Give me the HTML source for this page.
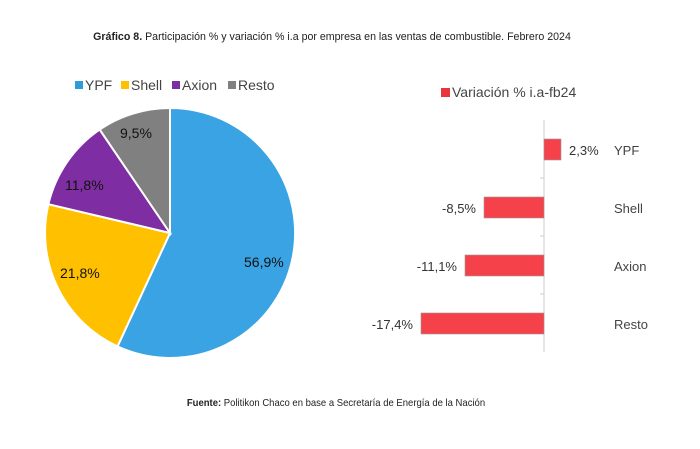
<!DOCTYPE html>
<html><head><meta charset="utf-8"><style>
body{margin:0;background:#fff;}
svg{display:block;font-family:"Liberation Sans",sans-serif;}
</style></head><body>
<svg width="700" height="449" viewBox="0 0 700 449">
<rect width="700" height="449" fill="#fff"/>
<text x="332" y="40" text-anchor="middle" font-size="11.5" fill="#222" transform="translate(332,0) scale(0.925,1) translate(-332,0)"><tspan font-weight="bold">Gráfico 8.</tspan> Participación % y variación % i.a por empresa en las ventas de combustible. Febrero 2024</text>
<g font-size="14" fill="#444">
<rect x="75" y="81" width="8" height="8" fill="#2E9BDB"/><text x="85" y="90">YPF</text>
<rect x="121" y="81" width="8" height="8" fill="#FFC000"/><text x="131" y="90">Shell</text>
<rect x="172" y="81" width="8" height="8" fill="#7B2FA0"/><text x="182" y="90">Axion</text>
<rect x="228" y="81" width="8" height="8" fill="#808080"/><text x="238" y="90">Resto</text>
</g>
<g stroke="#fff" stroke-width="2">
<path d="M170,233 L170,108 A125,125 0 1 1 117.5,346.4 Z" fill="#3AA3E3"/>
<path d="M170,233 L117.5,346.4 A125,125 0 0 1 48.4,204.2 Z" fill="#FFC000"/>
<path d="M170,233 L48.4,204.2 A125,125 0 0 1 99.7,129.6 Z" fill="#7E2EA2"/>
<path d="M170,233 L99.7,129.6 A125,125 0 0 1 170,108 Z" fill="#808080"/>
</g>
<g font-size="14" fill="#111">
<text x="244" y="267">56,9%</text>
<text x="60" y="278">21,8%</text>
<text x="65" y="190">11,8%</text>
<text x="120" y="138">9,5%</text>
</g>
<rect x="441" y="88" width="9" height="9" fill="#E8343C"/>
<text x="452" y="97" font-size="14" fill="#444">Variación % i.a-fb24</text>
<line x1="544" y1="120" x2="544" y2="352" stroke="#ccc" stroke-width="1"/>
<g stroke="#ccc"><line x1="540" y1="178" x2="544" y2="178"/><line x1="540" y1="236" x2="544" y2="236"/><line x1="540" y1="294" x2="544" y2="294"/></g>
<g fill="#F5414A" stroke="#999" stroke-width="0.6">
<rect x="544" y="139" width="17" height="21"/>
<rect x="484" y="197" width="60" height="21"/>
<rect x="465" y="255" width="79" height="21"/>
<rect x="421" y="313" width="123" height="21"/>
</g>
<g font-size="13" fill="#333">
<text x="569" y="155">2,3%</text>
<text x="476" y="213" text-anchor="end">-8,5%</text>
<text x="457" y="271" text-anchor="end">-11,1%</text>
<text x="413" y="329" text-anchor="end">-17,4%</text>
</g>
<g font-size="13" fill="#444">
<text x="614" y="155">YPF</text>
<text x="614" y="213">Shell</text>
<text x="614" y="271">Axion</text>
<text x="614" y="329">Resto</text>
</g>
<text x="336" y="406" text-anchor="middle" font-size="10" fill="#222" transform="translate(336,0) scale(0.95,1) translate(-336,0)"><tspan font-weight="bold">Fuente:</tspan> Politikon Chaco en base a Secretaría de Energía de la Nación</text>
</svg>
</body></html>
